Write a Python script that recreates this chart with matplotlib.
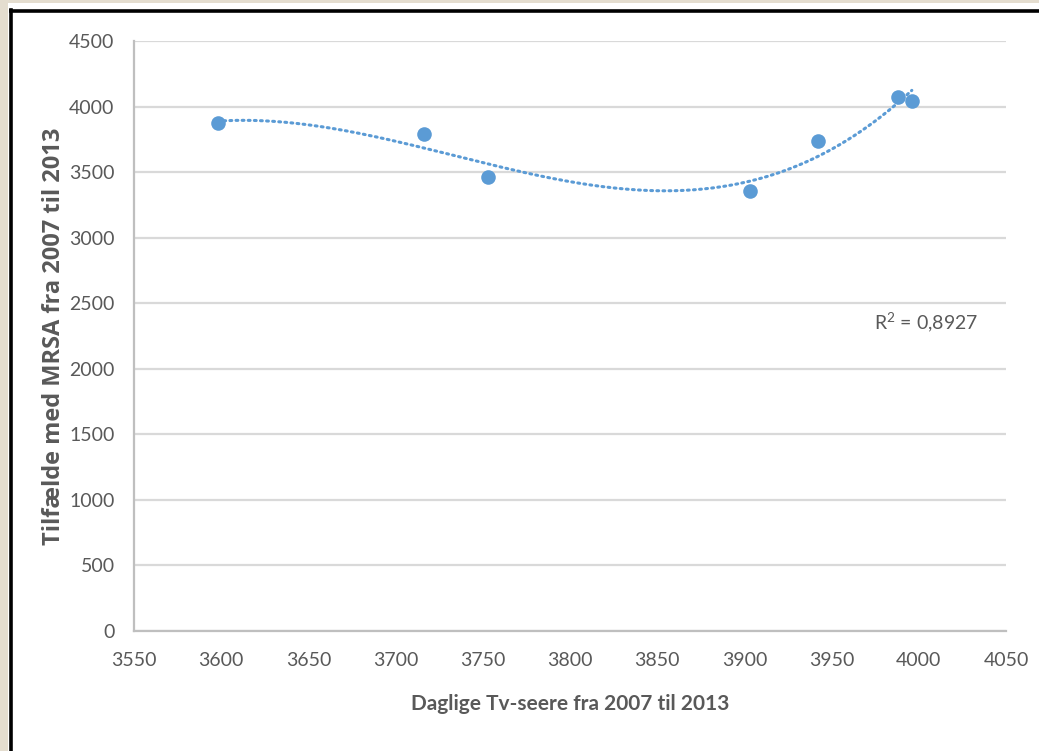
import matplotlib.pyplot as plt
import numpy as np
from matplotlib.patches import Rectangle
from matplotlib.lines import Line2D

# daglige tv-seere (x) og MRSA-tilfælde (y), 2007-2013
tv_seere = [3598, 3716, 3753, 3903, 3942, 3988, 3996]
mrsa = [3875, 3791, 3463, 3356, 3737, 4073, 4042]

x_ticks = [3550, 3600, 3650, 3700, 3750, 3800, 3850, 3900, 3950, 4000, 4050]
y_ticks = [0, 500, 1000, 1500, 2000, 2500, 3000, 3500, 4000, 4500]
r2_text = "R$^2$ = 0,8927"

blaa = "#5b9bd5"
graa = "#595959"

plt.rcParams['font.family'] = ['Lato', 'DejaVu Sans']
plt.rcParams['mathtext.fontset'] = 'custom'
plt.rcParams['mathtext.rm'] = 'Lato'

W, H = 1039, 751
fig = plt.figure(figsize=(W / 100, H / 100), dpi=100)
fig.patch.set_facecolor("#e4ddcf")

# hvid ramme med sort kant
fig.add_artist(Rectangle((8 / W, 0), 1, 1 - 3 / H, transform=fig.transFigure,
                         facecolor="white", edgecolor="none", zorder=-2))
fig.add_artist(Line2D([10.5 / W, 10.5 / W], [0, 1 - 10 / H], transform=fig.transFigure,
                      color="black", lw=2.6))
fig.add_artist(Line2D([10.5 / W, 1], [1 - 11.3 / H, 1 - 11.3 / H], transform=fig.transFigure,
                      color="black", lw=2.6))

ax = fig.add_axes([134 / W, 120 / H, 872 / W, 590 / H])
ax.set_facecolor("none")

x = np.array(tv_seere, dtype=float)
y = np.array(mrsa, dtype=float)

# polynomiel tendenslinje (3. grad)
koef = np.polyfit(x, y, 3)
xs = np.linspace(x.min(), x.max(), 300)
ax.plot(xs, np.polyval(koef, xs), linestyle=(0, (0.6, 1.4)), color=blaa, lw=2.2,
        dash_capstyle="round", zorder=2)

ax.plot(x, y, "o", color=blaa, markersize=10.5, markeredgewidth=0, zorder=3)

ax.set_xlim(3550, 4050)
ax.set_ylim(0, 4500)
ax.set_xticks(x_ticks)
ax.set_yticks(y_ticks)
ax.tick_params(length=0, labelsize=14, labelcolor=graa)
ax.tick_params(axis="x", pad=15)
ax.tick_params(axis="y", pad=14)
ax.grid(axis="y", color="#d9d9d9", lw=1.6)
ax.set_axisbelow(True)
for s in ["top", "right"]:
    ax.spines[s].set_visible(False)
for s in ["left", "bottom"]:
    ax.spines[s].set_color("#bfbfbf")
    ax.spines[s].set_linewidth(1.6)

ax.set_xlabel("Daglige Tv-seere fra 2007 til 2013", fontsize=15, fontweight="bold",
              color=graa, labelpad=18)
ax.set_ylabel("Tilfælde med MRSA fra 2007 til 2013", fontsize=17, fontweight="bold",
              family=["Open Sans", "DejaVu Sans"], color=graa, labelpad=2)

ax.text(4004, 2350, r2_text, fontsize=14, color=graa, ha="center", va="center")

fig.savefig("out.png", dpi=100)
